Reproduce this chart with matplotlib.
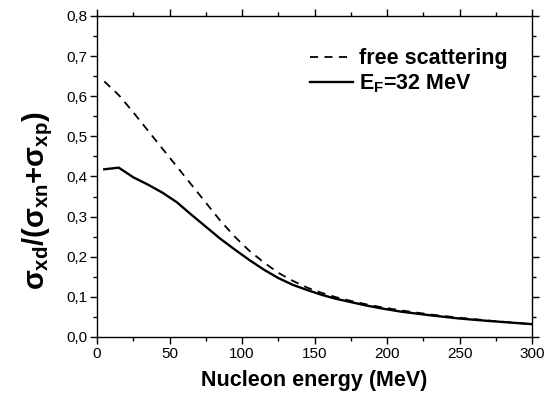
import matplotlib
matplotlib.use("Agg")
from matplotlib import pyplot as plt
from matplotlib.ticker import MultipleLocator, FuncFormatter

# nucleon energy (MeV)
energy = [5, 15, 25, 35, 45, 55, 65, 75, 85, 95, 105, 115, 125, 135, 145,
          155, 165, 175, 185, 195, 210, 230, 250, 270, 300]
# free scattering ratio
free_scat = [0.637, 0.603, 0.560, 0.515, 0.470, 0.425, 0.380, 0.335, 0.290,
             0.250, 0.215, 0.186, 0.160, 0.140, 0.123, 0.110, 0.099, 0.090,
             0.082, 0.075, 0.066, 0.056, 0.048, 0.041, 0.032]
# E_F = 32 MeV ratio
ef32 = [0.418, 0.422, 0.398, 0.380, 0.360, 0.336, 0.305, 0.275, 0.245,
        0.218, 0.192, 0.168, 0.147, 0.130, 0.117, 0.105, 0.095, 0.087,
        0.079, 0.072, 0.063, 0.054, 0.046, 0.040, 0.032]

plt.rcParams['font.family'] = ['Liberation Sans', 'DejaVu Sans']
plt.rcParams['mathtext.fontset'] = 'custom'
plt.rcParams['mathtext.rm'] = 'Liberation Sans:bold'
plt.rcParams['mathtext.it'] = 'Liberation Sans:bold'
plt.rcParams['mathtext.bf'] = 'Liberation Sans:bold'

fig = plt.figure(figsize=(5.55, 3.96), dpi=100)
ax = fig.add_axes([0.1748, 0.149, 0.7838, 0.8106])

ax.plot(energy, free_scat, color='black', lw=1.3, ls=(0, (4.5, 3.5)),
        label='free scattering')
ax.plot(energy, ef32, color='black', lw=1.7, label=r'E$_\mathrm{F}$=32 MeV')

ax.set_xlim(0, 300)
ax.set_ylim(0, 0.8)
ax.xaxis.set_major_locator(MultipleLocator(50))
ax.xaxis.set_minor_locator(MultipleLocator(25))
ax.yaxis.set_major_locator(MultipleLocator(0.1))
ax.yaxis.set_minor_locator(MultipleLocator(0.05))
ax.yaxis.set_major_formatter(FuncFormatter(lambda v, p: f'{v:.1f}'.replace('.', ',')))

ax.tick_params(which='major', direction='out', length=5, width=1,
               labelsize=11, pad=2)
ax.tick_params(which='minor', direction='out', length=3, width=1)
ax.tick_params(which='both', top=True, right=True)
for spine in ax.spines.values():
    spine.set_linewidth(1)

ax.set_xlabel('Nucleon energy (MeV)', fontsize=15.5, fontweight='bold', labelpad=7)
ax.set_ylabel(r'$\sigma_{xd}/(\sigma_{xn}{+}\sigma_{xp})$', fontsize=21)
ax.yaxis.set_label_coords(-0.097, 0.424)

leg = ax.legend(loc='upper left', bbox_to_anchor=(0.49, 0.90), frameon=False,
                prop={'weight': 'bold', 'size': 15.5}, handlelength=2.0,
                handletextpad=0.25, labelspacing=0.15, borderpad=0,
                borderaxespad=0)

fig.savefig('out.png', dpi=100)
